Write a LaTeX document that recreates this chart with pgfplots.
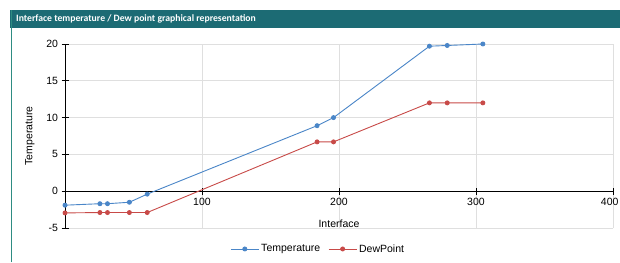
\documentclass[border=0pt]{standalone}
\usepackage{fontspec}
\setmainfont{Liberation Sans}
\newfontfamily\titlefont{Carlito}
\usepackage{pgfplots}
\pgfplotsset{compat=1.18}
\definecolor{teal1}{HTML}{1C6B74}
\definecolor{tborder}{HTML}{2E8C82}
\definecolor{tblue}{HTML}{4A86C8}
\definecolor{tred}{HTML}{C84A48}
\begin{document}
\begin{tikzpicture}[x=1pt,y=1pt]
\fill[white] (0,0) rectangle (620,262);
\useasboundingbox (0,0) rectangle (620,262);
\fill[teal1] (10,234) rectangle (620,252);
\draw[tborder, line width=1.5pt] (11.5,0) -- (11.5,252);
\node[anchor=west, text=white, inner sep=0pt, font=\titlefont\bfseries\fontsize{9.7}{11}\selectfont] at (16,243) {Interface temperature / Dew point graphical representation};
\begin{axis}[
  at={(65pt,34pt)}, anchor=south west,
  scale only axis, width=548pt, height=184pt,
  xmin=0, xmax=400, ymin=-5, ymax=20,
  axis x line=middle, axis y line=left,
  axis line style={-, line width=1pt, black},
  xtick={100,200,300,400}, ytick={-5,0,5,10,15,20},
  xticklabels={100,200,300,{\makebox[11pt][r]{400}}},
  extra x ticks={0}, extra x tick labels={},
  extra x tick style={grid=none, major tick length=0pt},
  tick align=center, major tick length=7pt,
  tick style={black, line width=0.9pt},
  grid=major, major grid style={gray!25, line width=0.6pt},
  /pgf/number format/assume math mode=true,
  tick label style={font=\fontsize{10.5}{12}\selectfont},
  xlabel={Interface}, ylabel={Temperature},
  label style={font=\fontsize{10.5}{12}\selectfont},
  xlabel style={at={(axis cs:200,-4.4)}, anchor=center},
  ylabel style={at={(axis description cs:-0.064,0.5)}, anchor=center, rotate=0},
  legend columns=2,
  legend style={draw=none, fill=none, at={(axis description cs:0.462,-0.114)}, anchor=center,
    font=\fontsize{10.5}{12}\selectfont,
    /tikz/every even column/.append style={column sep=6pt}},
  legend image code/.code={\draw[mark repeat=2, mark phase=2, #1] plot coordinates {(0pt,0pt) (14pt,0pt) (28pt,0pt)};},
  clip=false,
]
\addplot[color=tblue, line width=0.9pt, mark=*, mark size=2pt] coordinates {
  (0,-1.9) (25.5,-1.7) (31,-1.7) (47,-1.5) (60,-0.4) (184,8.9) (196,10.0) (266,19.7) (279,19.8) (305,20)
};
\addlegendentry{Temperature}
\addplot[color=tred, line width=0.9pt, mark=*, mark size=2pt] coordinates {
  (0,-2.95) (25.5,-2.9) (31,-2.9) (47,-2.9) (60,-2.9) (184,6.7) (196,6.7) (266,12) (279,12) (305,12)
};
\addlegendentry{DewPoint}
\end{axis}
\end{tikzpicture}
\end{document}
